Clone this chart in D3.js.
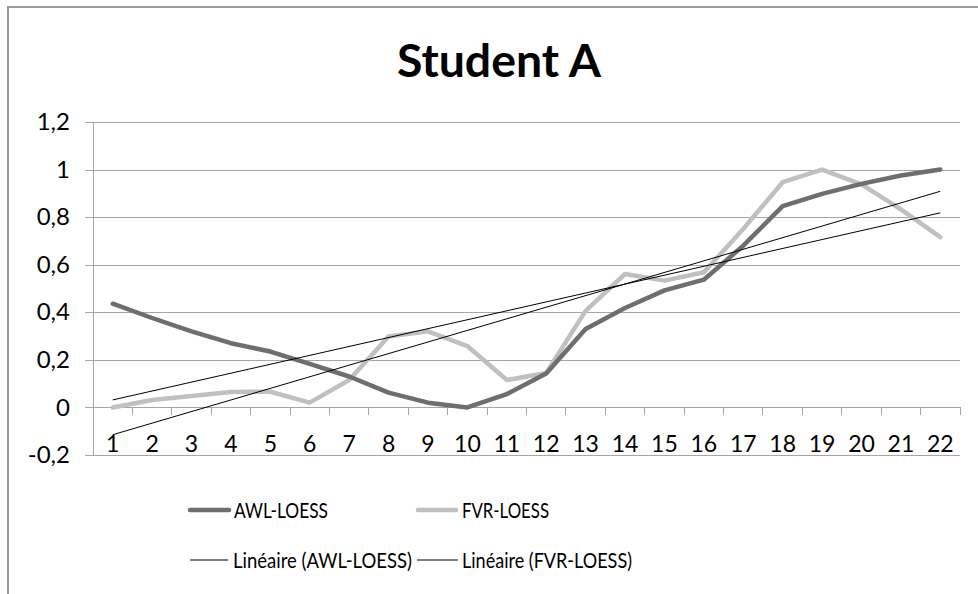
<!DOCTYPE html>
<html>
<head>
<meta charset="utf-8">
<script src="https://cdn.jsdelivr.net/npm/d3@7/dist/d3.min.js"></script>
<style>
  html, body { margin: 0; padding: 0; background: #fff; }
  svg { display: block; font-family: Lato, "Open Sans", sans-serif; }
</style>
</head>
<body>
<svg id="chart" width="978" height="594"></svg>
<script>
const categories = ["1","2","3","4","5","6","7","8","9","10","11","12","13","14","15","16","17","18","19","20","21","22"];
const awlValues = [0.436,0.376,0.32,0.27,0.235,0.183,0.13,0.062,0.02,0.0,0.056,0.143,0.33,0.418,0.492,0.537,0.68,0.846,0.898,0.94,0.975,1.0];
const fvrValues = [0.0,0.031,0.048,0.065,0.066,0.02,0.115,0.298,0.32,0.258,0.115,0.145,0.406,0.561,0.533,0.568,0.75,0.947,1.0,0.938,0.833,0.716];
const yTicks = [-0.2,0,0.2,0.4,0.6,0.8,1,1.2];
const yTickLabels = ["-0,2","0","0,2","0,4","0,6","0,8","1","1,2"];
const seriesNames = ["AWL-LOESS","FVR-LOESS","Linéaire (AWL-LOESS)","Linéaire (FVR-LOESS)"];
const titleText = "Student A";

const svg = d3.select("#chart");
const W = 978, H = 594;
const plot = {left: 93, right: 960, top: 122, bottom: 455};

// frame (only left and top visible in reference)
svg.append("path")
  .attr("d", `M8,${H} V7 H${W}`)
  .attr("fill", "none").attr("stroke", "#9a9a9a").attr("stroke-width", 2);

svg.append("text")
  .attr("x", 499).attr("y", 77)
  .attr("text-anchor", "middle")
  .attr("font-size", 46).attr("font-weight", "bold").attr("fill", "#000")
  .attr("textLength", 204).attr("lengthAdjust", "spacingAndGlyphs")
  .text(titleText);

const x = d3.scaleBand().domain(categories).range([plot.left, plot.right]);
const y = d3.scaleLinear().domain([-0.2, 1.2]).range([plot.bottom, plot.top]);
const cx = d => x(d) + x.bandwidth() / 2;

// gridlines + y axis
const yAxis = d3.axisLeft(y).tickValues(yTicks)
  .tickFormat((d, i) => yTickLabels[i])
  .tickSize(-(plot.right - plot.left)).tickPadding(23);
const gy = svg.append("g").attr("transform", `translate(${plot.left},0)`).call(yAxis);
gy.select(".domain").remove();
gy.selectAll(".tick line").attr("stroke", "#a6a6a6").attr("x1", -8).attr("shape-rendering", "crispEdges");
gy.selectAll(".tick text").attr("font-size", 24).attr("fill", "#000").attr("font-family", "Lato, sans-serif");

// vertical axis line
svg.append("line")
  .attr("x1", plot.left).attr("x2", plot.left)
  .attr("y1", y(1.2)).attr("y2", y(-0.2))
  .attr("stroke", "#a6a6a6").attr("shape-rendering", "crispEdges");

// x axis at y=0
const xAxis = d3.axisBottom(x).tickSize(0).tickPadding(0);
const gx = svg.append("g").attr("transform", `translate(0,${y(0)})`).call(xAxis);
gx.select(".domain").remove();
gx.selectAll(".tick text").attr("font-size", 23).attr("fill", "#000")
  .attr("font-family", "Lato, sans-serif").attr("dy", "0").attr("y", 45);
// category boundary tick marks
const bounds = categories.map(c => x(c)).concat([plot.right]);
svg.append("g").selectAll("line").data(bounds).join("line")
  .attr("x1", d => d).attr("x2", d => d)
  .attr("y1", y(0)).attr("y2", y(0) + 8)
  .attr("stroke", "#a6a6a6").attr("shape-rendering", "crispEdges");

// linear regression
function fit(vals) {
  const xs = vals.map((v, i) => i + 1);
  const mx = d3.mean(xs), my = d3.mean(vals);
  let sxy = 0, sxx = 0;
  xs.forEach((xv, i) => { sxy += (xv - mx) * (vals[i] - my); sxx += (xv - mx) ** 2; });
  const b = sxy / sxx, a = my - b * mx;
  return [[categories[0], a + b * 1], [categories[categories.length - 1], a + b * categories.length]];
}

const line = d3.line().x(d => cx(d[0])).y(d => y(d[1]));

svg.append("path").datum(categories.map((c, i) => [c, fvrValues[i]]))
  .attr("d", line).attr("fill", "none").attr("stroke", "#c0c0c0")
  .attr("stroke-width", 4.5).attr("stroke-linejoin", "round").attr("stroke-linecap", "round");
svg.append("path").datum(categories.map((c, i) => [c, awlValues[i]]))
  .attr("d", line).attr("fill", "none").attr("stroke", "#6e6e6e")
  .attr("stroke-width", 4.5).attr("stroke-linejoin", "round").attr("stroke-linecap", "round");

svg.append("path").datum(fit(awlValues)).attr("d", line)
  .attr("fill", "none").attr("stroke", "#000").attr("stroke-width", 1);
svg.append("path").datum(fit(fvrValues)).attr("d", line)
  .attr("fill", "none").attr("stroke", "#000").attr("stroke-width", 1);

// legend
const legendItems = [
  {name: seriesNames[0], color: "#6e6e6e", w: 4.5, x1: 190, x2: 229, tx: 234, y: 510, tl: 94},
  {name: seriesNames[1], color: "#c0c0c0", w: 4.5, x1: 418, x2: 456, tx: 462, y: 510, tl: 87},
  {name: seriesNames[2], color: "#000", w: 1, x1: 190, x2: 228, tx: 233, y: 560, tl: 179},
  {name: seriesNames[3], color: "#000", w: 1, x1: 417, x2: 458, tx: 462, y: 560, tl: 170}
];
const lg = svg.append("g").selectAll("g").data(legendItems).join("g");
lg.append("line")
  .attr("x1", d => d.x1).attr("x2", d => d.x2).attr("y1", d => d.y).attr("y2", d => d.y)
  .attr("stroke", d => d.color).attr("stroke-width", d => d.w).attr("stroke-linecap", d => d.w > 2 ? "round" : "butt");
lg.append("text")
  .attr("x", d => d.tx).attr("y", d => d.y + 8)
  .attr("font-size", 21).attr("fill", "#000")
  .attr("textLength", d => d.tl).attr("lengthAdjust", "spacingAndGlyphs")
  .text(d => d.name);
</script>
</body>
</html>
